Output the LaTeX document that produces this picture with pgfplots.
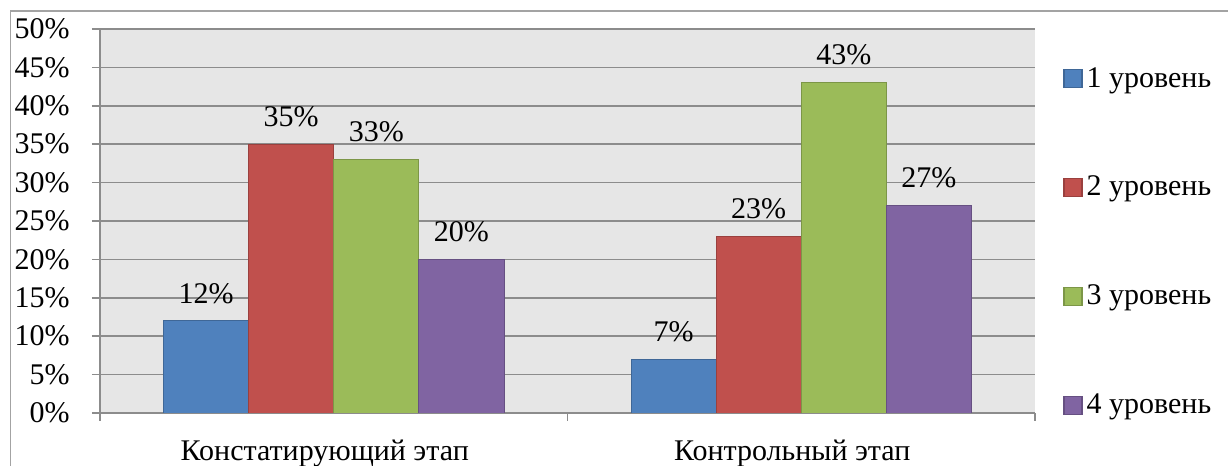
\documentclass[border=0pt]{standalone}
\usepackage{pgfplots}
\pgfplotsset{compat=1.18}
\usepackage{fontspec}
\setmainfont{Liberation Serif}

\definecolor{lvA}{HTML}{4F81BD}
\definecolor{lvB}{HTML}{C0504D}
\definecolor{lvC}{HTML}{9BBB59}
\definecolor{lvD}{HTML}{8064A2}
\definecolor{gridc}{HTML}{8C8C8C}
\definecolor{bgc}{HTML}{E6E6E6}

\begin{document}
\begin{tikzpicture}
% 1 px of the reference = 0.5pt
\useasboundingbox (0,0) rectangle (614pt,233pt);
\draw[gridc!80, line width=0.8pt] (5.3pt,0) -- (5.3pt,227.5pt) -- (614pt,227.5pt);
\begin{axis}[
    at={(50pt,26.5pt)}, anchor=south west,
    scale only axis,
    width=467.5pt, height=192pt,
    ymin=0, ymax=50,
    xmin=-0.5, xmax=1.5,
    ytick={0,5,...,50},
    yticklabel={\pgfmathprintnumber{\tick}\%},
    xtick={0,1},
    xticklabels={Констатирующий этап, Контрольный этап},
    minor xtick={-0.5,0.5,1.5},
    major x tick style={draw=none},
    tick align=outside,
    major tick length=4pt, minor tick length=4pt,
    tick style={gridc, line width=0.8pt},
    axis x line*=bottom, axis y line*=left,
    axis line style={gridc, line width=0.8pt, -},
    ymajorgrids, grid style={gridc, line width=0.8pt},
    axis background/.style={fill=bgc},
    font=\fontsize{15pt}{17pt}\selectfont,
    /pgf/number format/assume math mode=true,
    yticklabel style={anchor=east, inner sep=0pt, xshift=-11pt},
    xticklabel style={anchor=base, inner sep=0pt, yshift=-20pt, xshift=-4.5pt},
    ybar, bar width=0.182,
    nodes near coords={\pgfmathprintnumber{\pgfplotspointmeta}\%},
    nodes near coords style={anchor=south, inner sep=0pt, yshift=8.5pt},
    legend style={draw=none, fill=none, at={(1.03,0.912)}, anchor=north west,
        row sep=39pt, inner sep=0pt, font=\fontsize{15pt}{17pt}\selectfont},
    legend cell align=left,
    legend image code/.code={\draw[#1, line width=0.6pt] (0pt,-4.5pt) rectangle (9pt,4.5pt);},
]
\addplot[fill=lvA, draw=lvA!80!black, bar shift=-0.273] coordinates {(0,12) (1,7)};
\addplot[fill=lvB, draw=lvB!80!black, bar shift=-0.091] coordinates {(0,35) (1,23)};
\addplot[fill=lvC, draw=lvC!80!black, bar shift=0.091] coordinates {(0,33) (1,43)};
\addplot[fill=lvD, draw=lvD!80!black, bar shift=0.273] coordinates {(0,20) (1,27)};
\legend{1 уровень, 2 уровень, 3 уровень, 4 уровень}
\end{axis}
\end{tikzpicture}
\end{document}
